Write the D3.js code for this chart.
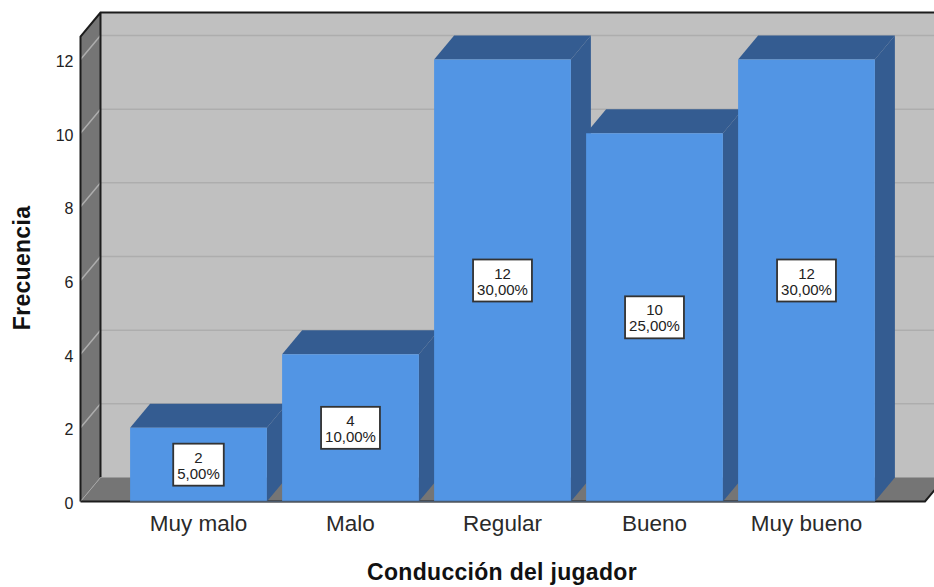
<!DOCTYPE html>
<html><head><meta charset="utf-8">
<script src="https://cdn.jsdelivr.net/npm/d3@7"></script>
<style>html,body{margin:0;padding:0;background:#fff;overflow:hidden}svg{display:block}text{font-family:"Liberation Sans",Arial,sans-serif}</style>
</head><body><svg id="c" width="934" height="587"></svg>
<script>
const categories=["Muy malo","Malo","Regular","Bueno","Muy bueno"];
const counts=[2,4,12,10,12];
const percents=["5,00%","10,00%","30,00%","25,00%","30,00%"];
const yTicks=[0,2,4,6,8,10,12];
const xTitle="Conducción del jugador";
const yTitle="Frecuencia";
const W=934,H=587,dx=20,dy=24;
const svg=d3.select("#c");
const y=d3.scaleLinear().domain([0,12]).range([501.5,59.5]);
const x=d3.scaleBand().domain(categories).range([122.5,882.5]).paddingInner(0.1).paddingOuter(0.05);
const leftX=80.5,rightX=925,bottomY=y(0),topY=36.5;
const poly=(pts,fill)=>svg.append("polygon").attr("points",pts.map(p=>p.join(",")).join(" ")).attr("fill",fill);
// back wall, side wall, floor
poly([[leftX+dx,topY-dy],[W+10,topY-dy],[W+10,bottomY-dy],[leftX+dx,bottomY-dy]],"#c0c0c0");
poly([[leftX,topY],[leftX+dx,topY-dy],[leftX+dx,bottomY-dy],[leftX,bottomY]],"#757575");
poly([[leftX,bottomY],[leftX+dx,bottomY-dy],[rightX+dx,bottomY-dy],[rightX,bottomY]],"#757575");
// gridlines
svg.append("g").selectAll("path").data(yTicks.filter(d=>d>0)).join("path")
 .attr("fill","none").attr("stroke","#adadad").attr("stroke-width",1.5)
 .attr("d",d=>`M${leftX},${y(d)}L${leftX+dx},${y(d)-dy}L${W+10},${y(d)-dy}`);
// frame
svg.append("path").attr("fill","none").attr("stroke","#1c1c1c").attr("stroke-width",2)
 .attr("d",`M${leftX},${bottomY}L${leftX},${topY}L${leftX+dx},${topY-dy}L${W+10},${topY-dy}M${leftX+dx},${topY-dy}L${leftX+dx},${bottomY-dy}`);
svg.append("path").attr("fill","none").attr("stroke","#a5a5a5").attr("stroke-width",1)
 .attr("d",`M${leftX},${bottomY}L${leftX+dx},${bottomY-dy}`);
svg.append("line").attr("x1",leftX+dx).attr("x2",W+10).attr("y1",bottomY-dy).attr("y2",bottomY-dy).attr("stroke","#9a9a9a").attr("stroke-width",1);
svg.append("path").attr("fill","none").attr("stroke","#1c1c1c").attr("stroke-width",2)
 .attr("d",`M${leftX},${bottomY}L${rightX},${bottomY}L${rightX+dx},${bottomY-dy}`);
// bars
const bars=svg.append("g").selectAll("g").data(categories).join("g");
bars.each(function(c,i){
 const g=d3.select(this),x0=x(c),x1=x0+x.bandwidth(),yt=y(counts[i]);
 const p=(pts,f)=>g.append("polygon").attr("points",pts.map(q=>q.join(",")).join(" ")).attr("fill",f);
 p([[x0,yt],[x0+dx,yt-dy],[x1+dx,yt-dy],[x1,yt]],"#345c91");
 p([[x1,yt],[x1+dx,yt-dy],[x1+dx,bottomY-dy],[x1,bottomY]],"#345c91");
 p([[x0,yt],[x1,yt],[x1,bottomY],[x0,bottomY]],"#5295e4");
});
svg.append("line").attr("x1",x(categories[0])).attr("x2",x(categories[4])+x.bandwidth()).attr("y1",bottomY).attr("y2",bottomY).attr("stroke","#4b5a6b").attr("stroke-width",1.5);
// data labels
const lab=svg.append("g").selectAll("g").data(categories).join("g")
 .attr("transform",(c,i)=>`translate(${x(c)+x.bandwidth()/2},${y(counts[i]/2)})`);
const box=lab.append("rect").attr("y",-21).attr("height",42).attr("fill","#fff").attr("stroke","#333").attr("stroke-width",1.8);
lab.append("text").attr("text-anchor","middle").attr("y",-2).attr("font-size",15).attr("fill","#222").text((c,i)=>counts[i]);
const pct=lab.append("text").attr("text-anchor","middle").attr("y",14).attr("font-size",15).attr("fill","#222").text((c,i)=>percents[i]);
box.each(function(c,i){
 const w=pct.nodes()[i].getComputedTextLength()+8;
 d3.select(this).attr("x",-w/2).attr("width",w);
});
// axes
const yAxis=svg.append("g").attr("transform",`translate(${leftX},0)`).call(d3.axisLeft(y).tickValues(yTicks).tickSize(0).tickPadding(7));
yAxis.select(".domain").remove();
yAxis.selectAll("text").attr("font-size",16).attr("fill","#222").attr("font-family",'"Liberation Sans"').attr("dy","0.43em");
const xAxis=svg.append("g").attr("transform",`translate(0,${bottomY})`).call(d3.axisBottom(x).tickSize(0).tickPadding(14));
xAxis.select(".domain").remove();
xAxis.selectAll("text").attr("font-size",22.5).attr("fill","#2a2a2a").attr("font-family",'"Liberation Sans"');
svg.append("text").attr("x",502).attr("y",580).attr("text-anchor","middle").attr("font-size",23).attr("letter-spacing",0.3).attr("font-weight","bold").attr("fill","#111").text(xTitle);
svg.append("text").attr("transform","translate(30,268) rotate(-90)").attr("text-anchor","middle").attr("font-size",23).attr("letter-spacing",0.3).attr("font-weight","bold").attr("fill","#111").text(yTitle);
</script></body></html>
